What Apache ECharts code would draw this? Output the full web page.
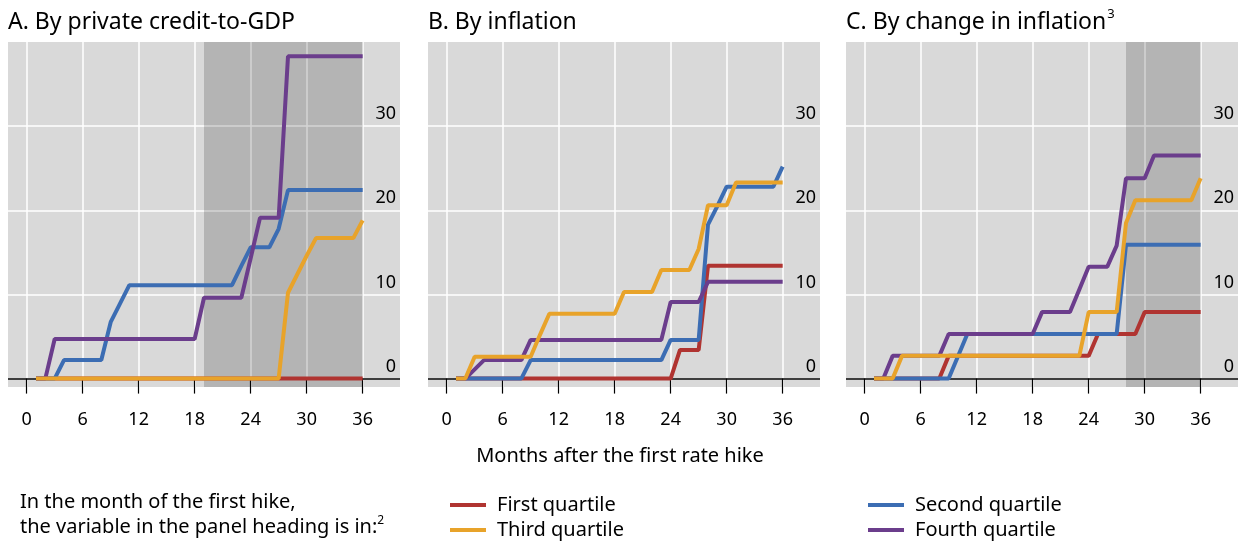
<!DOCTYPE html>
<html>
<head>
<meta charset="utf-8">
<script src="https://cdn.jsdelivr.net/npm/echarts@6/dist/echarts.min.js"></script>
<style>
html,body{margin:0;padding:0;background:#fff;}
#chart{width:1240px;height:541px;}
</style>
</head>
<body>
<div id="chart"></div>
<script>
// ---- Data ----
const months = [1,2,3,4,5,6,7,8,9,10,11,12,13,14,15,16,17,18,19,20,21,22,23,24,25,26,27,28,29,30,31,32,33,34,35,36];
const xTicks = [0,6,12,18,24,30,36];
const yTicks = [0,10,20,30];
const seriesNames = ['First quartile','Second quartile','Third quartile','Fourth quartile'];
const panelTitles = ['A. By private credit-to-GDP','B. By inflation','C. By change in inflation'];
const panelTitleSup = ['','','3'];

// Panel A: by private credit-to-GDP
const aFirst  = [0,0,0,0,0,0,0,0,0,0,0,0,0,0,0,0,0,0,0,0,0,0,0,0,0,0,0,0,0,0,0,0,0,0,0,0];
const aSecond = [0,0,0,2.2,2.2,2.2,2.2,2.2,6.7,8.9,11.1,11.1,11.1,11.1,11.1,11.1,11.1,11.1,11.1,11.1,11.1,11.1,13.4,15.6,15.6,15.6,17.8,22.4,22.4,22.4,22.4,22.4,22.4,22.4,22.4,22.4];
const aThird  = [0,0,0,0,0,0,0,0,0,0,0,0,0,0,0,0,0,0,0,0,0,0,0,0,0,0,0,10.2,12.4,14.6,16.7,16.7,16.7,16.7,16.7,18.8];
const aFourth = [0,0,4.7,4.7,4.7,4.7,4.7,4.7,4.7,4.7,4.7,4.7,4.7,4.7,4.7,4.7,4.7,4.7,9.6,9.6,9.6,9.6,9.6,14.3,19.1,19.1,19.1,38.3,38.3,38.3,38.3,38.3,38.3,38.3,38.3,38.3];

// Panel B: by inflation
const bFirst  = [0,0,0,0,0,0,0,0,0,0,0,0,0,0,0,0,0,0,0,0,0,0,0,0,3.4,3.4,3.4,13.4,13.4,13.4,13.4,13.4,13.4,13.4,13.4,13.4];
const bSecond = [0,0,0,0,0,0,0,0,2.2,2.2,2.2,2.2,2.2,2.2,2.2,2.2,2.2,2.2,2.2,2.2,2.2,2.2,2.2,4.6,4.6,4.6,4.6,18.3,20.5,22.8,22.8,22.8,22.8,22.8,22.8,25.2];
const bThird  = [0,0,2.6,2.6,2.6,2.6,2.6,2.6,2.6,5.2,7.7,7.7,7.7,7.7,7.7,7.7,7.7,7.7,10.3,10.3,10.3,10.3,12.9,12.9,12.9,12.9,15.4,20.6,20.6,20.6,23.3,23.3,23.3,23.3,23.3,23.3];
const bFourth = [0,0,1.1,2.2,2.2,2.2,2.2,2.2,4.6,4.6,4.6,4.6,4.6,4.6,4.6,4.6,4.6,4.6,4.6,4.6,4.6,4.6,4.6,9.1,9.1,9.1,9.1,11.5,11.5,11.5,11.5,11.5,11.5,11.5,11.5,11.5];

// Panel C: by change in inflation
const cFirst  = [0,0,0,0,0,0,0,0,2.7,2.7,2.7,2.7,2.7,2.7,2.7,2.7,2.7,2.7,2.7,2.7,2.7,2.7,2.7,2.7,5.3,5.3,5.3,5.3,5.3,7.9,7.9,7.9,7.9,7.9,7.9,7.9];
const cSecond = [0,0,0,0,0,0,0,0,0,2.65,5.3,5.3,5.3,5.3,5.3,5.3,5.3,5.3,5.3,5.3,5.3,5.3,5.3,5.3,5.3,5.3,5.3,15.9,15.9,15.9,15.9,15.9,15.9,15.9,15.9,15.9];
const cThird  = [0,0,0,2.7,2.7,2.7,2.7,2.7,2.7,2.7,2.7,2.7,2.7,2.7,2.7,2.7,2.7,2.7,2.7,2.7,2.7,2.7,2.7,7.9,7.9,7.9,7.9,18.5,21.2,21.2,21.2,21.2,21.2,21.2,21.2,23.8];
const cFourth = [0,0,2.7,2.7,2.7,2.7,2.7,2.7,5.3,5.3,5.3,5.3,5.3,5.3,5.3,5.3,5.3,5.3,7.9,7.9,7.9,7.9,10.6,13.3,13.3,13.3,15.8,23.8,23.8,23.8,26.5,26.5,26.5,26.5,26.5,26.5];

// Shaded periods (months)
const shadeA = [19, 36];
const shadeB = null;
const shadeC = [28, 36];

// ---- Styling ----
const FONT = 'Noto Sans';
const colors = {
  'First quartile': '#b03431',
  'Second quartile': '#3c6db3',
  'Third quartile': '#e8a32a',
  'Fourth quartile': '#6b3d8c'
};
const panels = [
  {data: {'First quartile': aFirst, 'Second quartile': aSecond, 'Third quartile': aThird, 'Fourth quartile': aFourth}, shade: shadeA, left: 8},
  {data: {'First quartile': bFirst, 'Second quartile': bSecond, 'Third quartile': bThird, 'Fourth quartile': bFourth}, shade: shadeB, left: 428},
  {data: {'First quartile': cFirst, 'Second quartile': cSecond, 'Third quartile': cThird, 'Fourth quartile': cFourth}, shade: shadeC, left: 846}
];
const GRID_W = 392, GRID_TOP = 42, GRID_H = 345;
const drawOrder = ['First quartile','Second quartile','Fourth quartile','Third quartile'];

const grids = [], xAxes = [], yAxes = [], series = [], titles = [];
panels.forEach((p, i) => {
  grids.push({left: p.left, top: GRID_TOP, width: GRID_W, height: GRID_H, show: true,
    backgroundColor: '#d9d9d9', borderWidth: 0, containLabel: false});
  xAxes.push({type: 'value', gridIndex: i, min: -2, max: 40,
    axisLine: {show: false},
    axisTick: {show: true, length: 15, customValues: xTicks, lineStyle: {color: '#000', width: 1.2}},
    axisLabel: {customValues: xTicks, fontFamily: FONT, fontSize: 18, color: '#000', margin: 24},
    splitLine: {show: true, lineStyle: {color: '#ffffff', width: 1.5}}
  });
  yAxes.push({type: 'value', gridIndex: i, position: 'right', min: -1, max: 40,
    axisLine: {show: false},
    axisTick: {show: false, customValues: yTicks},
    axisLabel: {inside: true, customValues: yTicks, fontFamily: FONT, fontSize: 18, color: '#000',
      margin: 4, verticalAlign: 'bottom', padding: [0, 0, 3, 0]},
    splitLine: {show: true, lineStyle: {color: '#ffffff', width: 1.5}}
  });
  const tt = panelTitleSup[i]
    ? '{t|' + panelTitles[i] + '}{s|' + panelTitleSup[i] + '}'
    : '{t|' + panelTitles[i] + '}';
  titles.push({text: tt, left: p.left, top: 8, padding: 0,
    textStyle: {rich: {
      t: {fontFamily: FONT, fontSize: 23, color: '#000', fontWeight: 'normal', lineHeight: 28},
      s: {fontFamily: FONT, fontSize: 13, color: '#000', fontWeight: 'normal', verticalAlign: 'top', lineHeight: 28, padding: [0, 0, 12, 1]}
    }}});
  drawOrder.forEach((name, k) => {
    const s = {
      name: name, type: 'line', xAxisIndex: i, yAxisIndex: i,
      data: months.map((m, j) => [m, p.data[name][j]]),
      showSymbol: false, symbol: 'none',
      lineStyle: {color: colors[name], width: 4},
      itemStyle: {color: colors[name]},
      z: 3 + k, silent: true, animation: false
    };
    if (k === 0) {
      if (p.shade) {
        s.markArea = {silent: true, itemStyle: {color: 'rgba(0,0,0,0.17)'},
          data: [[{xAxis: p.shade[0]}, {xAxis: p.shade[1]}]]};
      }
    }
    if (k === drawOrder.length - 1) {
      s.markLine = {silent: true, symbol: 'none', label: {show: false},
        lineStyle: {color: '#000', width: 1.5, type: 'solid'}, z: 1,
        data: [{yAxis: 0}]};
    }
    series.push(s);
  });
});

const legendText = {fontFamily: FONT, fontSize: 20, color: '#000', lineHeight: 24, padding: [0, 0, 0, 6]};
const legendPos = [
  {name: 'First quartile', left: 450, top: 493},
  {name: 'Third quartile', left: 450, top: 518},
  {name: 'Second quartile', left: 868, top: 493},
  {name: 'Fourth quartile', left: 868, top: 518}
];
const option = {
  animation: false,
  backgroundColor: '#ffffff',
  title: titles,
  grid: grids,
  xAxis: xAxes,
  yAxis: yAxes,
  series: series,
  legend: legendPos.map(l => ({
    data: [l.name], left: l.left, top: l.top, padding: 0,
    icon: 'rect', itemWidth: 36, itemHeight: 4, textStyle: legendText, selectedMode: false
  })),
  graphic: [
    {type: 'text', left: 'center', top: 446, style: {text: 'Months after the first rate hike',
      font: '20px "Noto Sans"', fill: '#000'}},
    {type: 'text', left: 20, top: 492, style: {
      text: '{a|In the month of the first hike,}\n{a|the variable in the panel heading is in:}{s|2}',
      rich: {
        a: {fontFamily: FONT, fontSize: 20, color: '#000', lineHeight: 25},
        s: {fontFamily: FONT, fontSize: 12, color: '#000', verticalAlign: 'top', lineHeight: 25, padding: [0, 0, 12, 0]}
      }}}
  ]
};
const chart = echarts.init(document.getElementById('chart'), null, {renderer: 'canvas'});
chart.setOption(option);
</script>
</body>
</html>
